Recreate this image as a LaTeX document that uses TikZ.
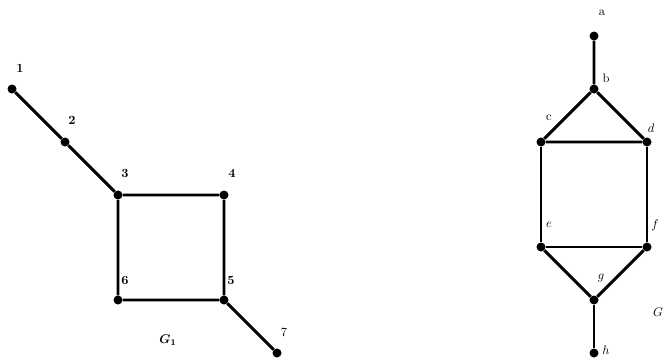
\documentclass[tikz,border=0pt]{standalone}
\usepackage{bm}
\begin{document}
\begin{tikzpicture}[x=0.8pt,y=-0.8pt,
  vtx/.style={circle,fill=black,inner sep=0pt,minimum size=7.2pt},
  edge/.style={line width=2.3pt},
  lbl/.style={inner sep=0pt,font=\normalsize}]
\useasboundingbox (0,0) rectangle (665,358);
% left graph G1
\node[vtx] (n1) at (12,89) {};
\node[vtx] (n2) at (65,142) {};
\node[vtx] (n3) at (118,195) {};
\node[vtx] (n4) at (224,195) {};
\node[vtx] (n5) at (224,300) {};
\node[vtx] (n6) at (118,300) {};
\node[vtx] (n7) at (277,353) {};
\draw[edge] (n1) -- (n2) -- (n3) -- (n4) -- (n5) -- (n6) -- (n3);
\draw[edge] (n5) -- (n7);
\node[lbl] (l1) at (20,68) {\textbf{1}};
\node[lbl] (l2) at (72,120) {\textbf{2}};
\node[lbl] (l3) at (125,173) {\textbf{3}};
\node[lbl] (l4) at (232,173) {\textbf{4}};
\node[lbl] (l5) at (231,280) {\textbf{5}};
\node[lbl] (l6) at (125,280) {\textbf{6}};
\node[lbl] (l7) at (284,332) {7};
\node[lbl] (lg1) at (168,340) {$\bm{G_1}$};
% right graph
\node[vtx] (a) at (594,36) {};
\node[vtx] (b) at (594,89) {};
\node[vtx] (c) at (541,142) {};
\node[vtx] (d) at (647,142) {};
\node[vtx] (e) at (541,247) {};
\node[vtx] (f) at (647,247) {};
\node[vtx] (g) at (594,300) {};
\node[vtx] (h) at (594,353) {};
\draw[edge] (a) -- (b) -- (c) -- (d) -- (b);
\draw[edge] (c) -- (e) -- (f) -- (d);
\draw[edge] (e) -- (g) -- (f);
\draw[edge] (g) -- (h);
\node[lbl] (la) at (602,13) {a};
\node[lbl] (lb) at (606,78) {b};
\node[lbl] (lc) at (549,118) {c};
\node[lbl] (ld) at (651,128) {$d$};
\node[lbl] (le) at (549,225) {$e$};
\node[lbl] (lf) at (655,225) {$f$};
\node[lbl] (lgg) at (601,278) {$g$};
\node[lbl] (lh) at (606,350) {$h$};
\node[lbl] (lG) at (658,312) {$G$};
\end{tikzpicture}
\end{document}
